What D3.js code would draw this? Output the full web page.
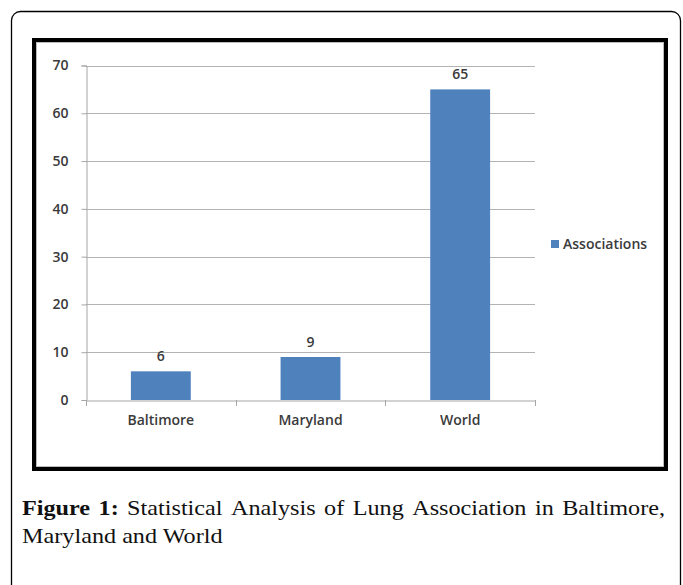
<!DOCTYPE html>
<html><head><meta charset="utf-8">
<script src="https://cdn.jsdelivr.net/npm/d3@7"></script>
<style>body{margin:0;background:#fff}svg{display:block}</style>
</head><body>
<svg id="c" width="683" height="585"></svg>
<script>
const categories = ["Baltimore", "Maryland", "World"];
const values = [6, 9, 65];
const seriesName = "Associations";
const yTicks = [0, 10, 20, 30, 40, 50, 60, 70];
const captionBold = "Figure 1:";
const captionLine1 = "Statistical Analysis of Lung Association in Baltimore,";
const captionLine2 = "Maryland and World";

const svg = d3.select("#c");
const blue = "#4F81BD";
const font = "'Open Sans', 'Liberation Sans', sans-serif";
const fs = 14, fw = 600, tc = "#3a3a3a";

// outer rounded frame
svg.append("rect").attr("x", 11.5).attr("y", 11.5).attr("width", 669).attr("height", 640)
  .attr("rx", 9).attr("fill", "none").attr("stroke", "#000").attr("stroke-width", 1.3);

// thick chart frame
svg.append("rect").attr("x", 34).attr("y", 40).attr("width", 632).attr("height", 429)
  .attr("fill", "#fff").attr("stroke", "#000").attr("stroke-width", 4);
svg.append("rect").attr("x", 36.5).attr("y", 42.5).attr("width", 627).attr("height", 424)
  .attr("fill", "none").attr("stroke", "#bbb").attr("stroke-width", 1);

const x = d3.scaleBand().domain(categories).range([86, 535]).paddingInner(0).paddingOuter(0);
const y = d3.scaleLinear().domain([0, 70]).range([400, 65.5]);

// gridlines
svg.append("g").selectAll("line").data(yTicks.slice(1)).join("line")
  .attr("x1", 86).attr("x2", 535).attr("y1", d => Math.round(y(d)) + 0.5).attr("y2", d => Math.round(y(d)) + 0.5)
  .attr("stroke", "#b3b3b3").attr("stroke-width", 1);

// y axis
const ya = svg.append("g").attr("transform", "translate(86.5,0)")
  .call(d3.axisLeft(y).tickValues(yTicks).tickSize(5).tickPadding(13).tickFormat(d3.format("d")));
ya.select(".domain").attr("stroke", "#a6a6a6");
ya.selectAll(".tick line").attr("stroke", "#a6a6a6");
ya.selectAll(".tick text").attr("font-family", font).attr("font-size", fs).attr("font-weight", fw).attr("fill", tc);

// bars
const bw = x.bandwidth() * 0.4;
svg.append("g").selectAll("rect").data(values).join("rect")
  .attr("x", (d, i) => x(categories[i]) + (x.bandwidth() - bw) / 2)
  .attr("y", d => y(d)).attr("width", bw).attr("height", d => y(0) - y(d))
  .attr("fill", blue);

// x axis
const xa = svg.append("g").attr("transform", "translate(0,400.5)")
  .call(d3.axisBottom(x).tickSize(0).tickPadding(15));
xa.select(".domain").attr("stroke", "#a6a6a6");
xa.selectAll(".tick text").attr("font-family", font).attr("font-size", fs).attr("font-weight", fw).attr("fill", tc);
const bounds = categories.map(c => x(c)).concat([x.range()[1]]);
svg.append("g").selectAll("line").data(bounds).join("line")
  .attr("x1", d => Math.round(d) + 0.5).attr("x2", d => Math.round(d) + 0.5)
  .attr("y1", 400).attr("y2", 406).attr("stroke", "#a6a6a6");

// value labels
svg.append("g").selectAll("text").data(values).join("text")
  .attr("x", (d, i) => x(categories[i]) + x.bandwidth() / 2)
  .attr("y", d => y(d) - 10).attr("text-anchor", "middle")
  .attr("font-family", font).attr("font-size", fs).attr("font-weight", fw).attr("fill", tc)
  .text(d => d);

// legend
svg.append("rect").attr("x", 551).attr("y", 240).attr("width", 8).attr("height", 8).attr("fill", blue);
svg.append("text").attr("x", 563).attr("y", 249).attr("font-family", font).attr("font-size", fs)
  .attr("font-weight", fw).attr("fill", tc).text(seriesName);

// caption (justified line 1)
const serif = "'Liberation Serif', 'DejaVu Serif', serif";
const widen = 1.1;
const cap = svg.append("g").attr("font-family", serif).attr("font-size", 22).attr("fill", "#111");
const words = captionBold.split(" ").concat(captionLine1.split(" "));
const left = 22, right = 665;
const nodes = words.map((w, i) => cap.append("text").attr("y", 515).attr("font-weight", i < 2 ? "bold" : "normal").text(w));
const widths = nodes.map(n => n.node().getComputedTextLength() * widen);
nodes.forEach((n, i) => n.attr("textLength", widths[i]).attr("lengthAdjust", "spacingAndGlyphs"));
const total = d3.sum(widths);
const gap = (right - left - total) / (words.length - 1);
let cx = left;
nodes.forEach((n, i) => { n.attr("x", cx); cx += widths[i] + gap; });
const l2 = cap.append("text").attr("x", left).attr("y", 543).text(captionLine2);
l2.attr("textLength", l2.node().getComputedTextLength() * widen).attr("lengthAdjust", "spacingAndGlyphs");
</script>
</body></html>
